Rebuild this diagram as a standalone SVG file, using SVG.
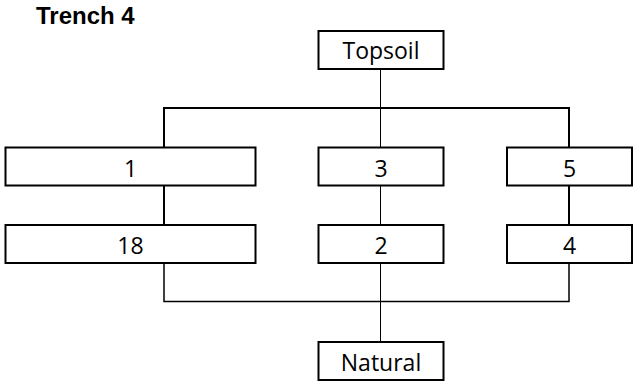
<svg xmlns="http://www.w3.org/2000/svg" width="634" height="382" viewBox="0 0 634 382">
<style>
.box{fill:#fff;stroke:#000;stroke-width:2}
.lbl{font-family:"Open Sans","Noto Sans",sans-serif;font-size:23px;fill:#000;text-anchor:middle}
.thin{stroke:#000;stroke-width:1;fill:none}
.thick{stroke:#000;stroke-width:2;fill:none}
.title{font-family:"Liberation Sans",Arial,sans-serif;font-weight:bold;font-size:24px;fill:#000}
</style>
<rect width="634" height="382" fill="#fff"/>
<text class="title" x="36" y="24">Trench 4</text>
<g id="connectors">
<line class="thin" x1="380.5" y1="69" x2="380.5" y2="147"/>
<polyline class="thick" points="164,147 164,108 569,108 569,147"/>
<line class="thick" x1="164" y1="186" x2="164" y2="224"/>
<line class="thin" x1="380.5" y1="186" x2="380.5" y2="224"/>
<line class="thick" x1="569" y1="186" x2="569" y2="224"/>
<polyline class="thick" points="164,263 164,301.5 569,301.5 569,263" style="stroke-width:1.5"/>
<line class="thin" x1="380.5" y1="263" x2="380.5" y2="342"/>
</g>
<g id="topsoil"><rect class="box" x="318.5" y="31" width="125" height="38"/><text class="lbl" x="381" y="59">Topsoil</text></g>
<g id="n1"><rect class="box" x="5.5" y="147.5" width="250" height="38"/><text class="lbl" x="130.5" y="176.5">1</text></g>
<g id="n3"><rect class="box" x="318.5" y="147.5" width="125" height="38"/><text class="lbl" x="381" y="176.5">3</text></g>
<g id="n5"><rect class="box" x="507" y="147.5" width="125" height="38"/><text class="lbl" x="569.5" y="176.5">5</text></g>
<g id="n18"><rect class="box" x="5.5" y="225" width="250" height="38"/><text class="lbl" x="130.5" y="254">18</text></g>
<g id="n2"><rect class="box" x="318.5" y="225" width="125" height="38"/><text class="lbl" x="381" y="254">2</text></g>
<g id="n4"><rect class="box" x="507" y="225" width="125" height="38"/><text class="lbl" x="569.5" y="254">4</text></g>
<g id="natural"><rect class="box" x="318.5" y="342" width="125" height="38"/><text class="lbl" x="381" y="371">Natural</text></g>
</svg>
